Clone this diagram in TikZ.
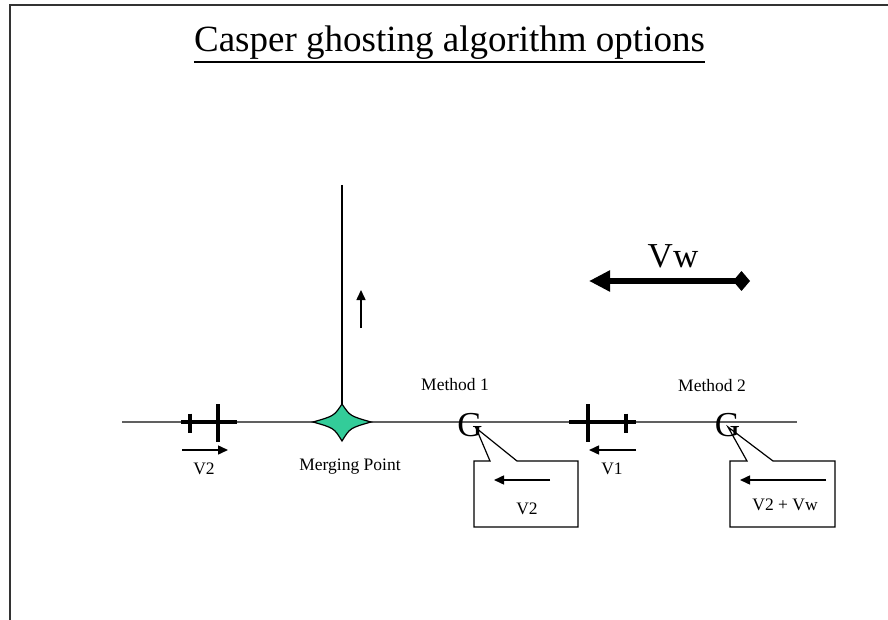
\documentclass[tikz,border=0pt]{standalone}
\usepackage{fontspec}
\setmainfont{Liberation Serif}
\usetikzlibrary{arrows.meta,positioning,calc}
\definecolor{ghostgreen}{RGB}{51,204,153}
\definecolor{trackgray}{RGB}{96,96,96}
\tikzset{
  lbl/.style={font=\fontsize{17.5}{20}\selectfont, inner sep=1pt},
  big/.style={font=\fontsize{35}{37}\selectfont, inner sep=0pt},
  track/.style={draw=trackgray, line width=1.6pt},
  wing/.style={line width=4.5pt},
  fin/.style={line width=4pt},
  varr/.style={-{Triangle[length=10pt,width=9pt]}, line width=1.5pt},
  callout/.style={draw, line width=1.2pt, line join=miter},
}

\begin{document}
\begin{tikzpicture}[x=1pt,y=-1pt]
\useasboundingbox (0,0) rectangle (888,620);
\draw[line width=2pt, black!80] (9.5,620) -- (9.5,5) -- (888,5);
\node[font=\fontsize{37}{40}\selectfont, inner sep=0pt, anchor=base] (title) at (449.5,52) {Casper ghosting algorithm options};
\draw[line width=2pt] ([yshift=-10pt]title.base west) -- ([yshift=-10pt]title.base east);
% track and merging point
\coordinate (tl) at (122,422);
\coordinate (tr) at (797,422);
\coordinate (mp) at (342,422);
\coordinate (mtop) at (342,185);
\draw[track] (tl) -- (tr);
\draw[line width=1.2pt] (mtop) -- (mp);
\draw[fill=ghostgreen, line width=1.2pt, shift={(mp)}] (-29,0) .. controls (-8,-6) .. (0,-18) .. controls (8,-6) .. (29,0) .. controls (8,6) .. (0,19) .. controls (-8,6) .. (-29,0) -- cycle;
\node[lbl] (mplbl) at (350,467) {Merging Point};
\coordinate (upb) at (361,328);
\coordinate (upt) at (361,290);
\draw[varr] (upb) -- (upt);
% aircraft 2 (left)
\coordinate (ac2) at (209,422);
\begin{scope}[shift={(ac2)}]
\draw[wing] (-28,0) -- (28,0);
\draw[fin] (8.5,-18) -- (8.5,20);
\draw[fin] (-19,-8.5) -- (-19,10.5);
\end{scope}
\coordinate (v2a) at (182,450);
\coordinate (v2b) at (228,450);
\draw[varr] (v2a) -- (v2b);
\node[lbl] (v2lbl) at (204,469) {V2};
% aircraft 1 (right)
\coordinate (ac1) at (602.5,422);
\begin{scope}[shift={(ac1)}]
\draw[wing] (-33.5,0) -- (33.5,0);
\draw[fin] (-14.5,-18) -- (-14.5,20);
\draw[fin] (23.5,-8.5) -- (23.5,10.5);
\end{scope}
\coordinate (v1a) at (636,450);
\coordinate (v1b) at (589,450);
\draw[varr] (v1a) -- (v1b);
\node[lbl] (v1lbl) at (612,469) {V1};
% method 1
\node[lbl] (m1) at (455,385) {Method 1};
\node[big] (g1) at (470,425) {G};
\coordinate (g1tip) at (476,428);
\draw[callout] (474,461) -- (490,461) -- (g1tip) -- (517,461) -- (578,461) -- (578,527) -- (474,527) -- cycle;
\coordinate (c1a) at (550,480);
\coordinate (c1b) at (494,480);
\draw[varr] (c1a) -- (c1b);
\node[lbl] (c1lbl) at (527,509) {V2};
% method 2
\node[lbl] (m2) at (712,386) {Method 2};
\node[big] (g2) at (727.5,425) {G};
\coordinate (g2tip) at (728,427);
\draw[callout] (730,461) -- (747,461) -- (g2tip) -- (773,461) -- (835,461) -- (835,527) -- (730,527) -- cycle;
\coordinate (c2a) at (826,480);
\coordinate (c2b) at (740,480);
\draw[varr] (c2a) -- (c2b);
\node[lbl] (c2lbl) at (785,505) {V2 + Vw};
% wind
\coordinate (vwl) at (589,281);
\coordinate (vwr) at (750,281);
\draw[line width=6pt, {Triangle[length=21pt,width=20pt]}-{Diamond[length=17pt,width=20pt]}] (vwl) -- (vwr);
\node[big] (vwlbl) at (673,256) {Vw};
\end{tikzpicture}
\end{document}
